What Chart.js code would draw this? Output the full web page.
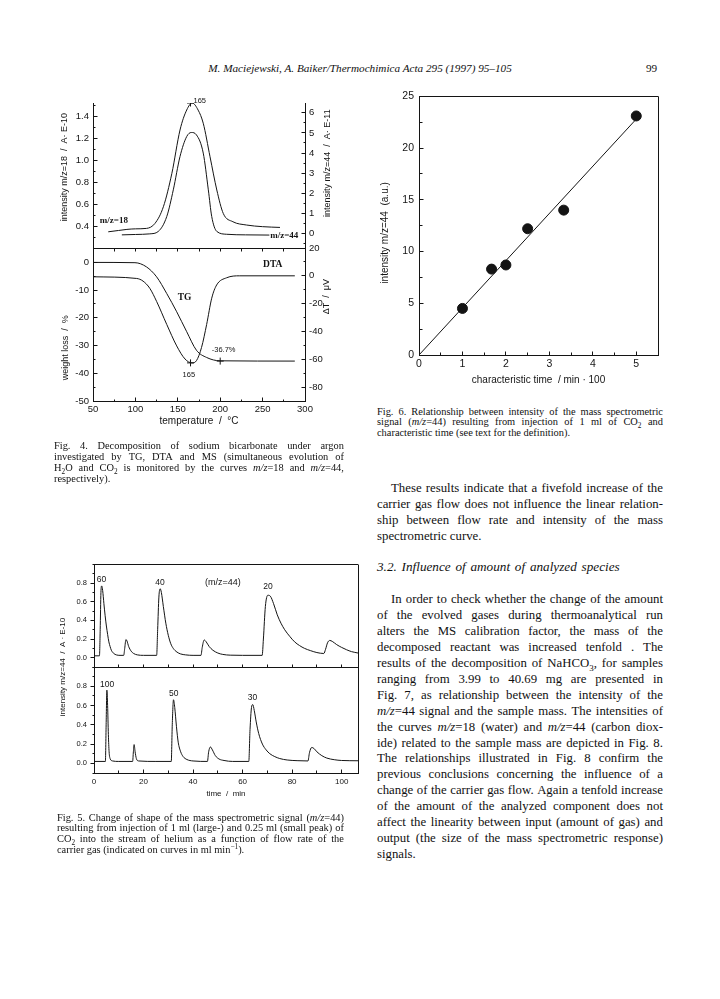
<!DOCTYPE html>
<html><head><meta charset="utf-8">
<script src="https://cdn.jsdelivr.net/npm/chart.js@4.4.1/dist/chart.umd.min.js"></script>
<style>
html,body{margin:0;padding:0;background:#fff;}
body{width:720px;height:999px;position:relative;overflow:hidden;font-family:"Liberation Serif","Times New Roman",serif;color:#111;}
canvas{position:absolute;}
.ln{position:absolute;box-sizing:border-box;white-space:nowrap;}
.j{display:flex;justify-content:space-between;}
sub,sup{font-size:70%;line-height:0;}
</style></head><body>
<div id="hdr" style="position:absolute;left:0;width:720px;top:61px;line-height:14px;font-size:11.2px;font-style:italic;text-align:center;">M. Maciejewski, A. Baiker/Thermochimica Acta 295 (1997) 95–105</div>
<div style="position:absolute;left:646px;top:61px;line-height:14px;font-size:11.2px;">99</div>

<canvas id="f4a" width="300" height="345" style="left:40px;top:90px"></canvas>
<canvas id="f4b" width="300" height="345" style="left:40px;top:90px"></canvas>
<canvas id="f6" width="300" height="310" style="left:370px;top:85px"></canvas>
<canvas id="f5a" width="330" height="250" style="left:40px;top:553px"></canvas>
<canvas id="f5b" width="330" height="250" style="left:40px;top:553px"></canvas>

<script>
// ---------------- DATA ----------------
// Fig. 4 (top): MS signals vs temperature
const fig4Temp18 = [68, 80, 90, 100, 113, 123, 133, 143, 152.6, 160.5, 167, 174, 180, 188, 196, 203.6, 215, 231, 250, 270.5];
const fig4Ms18   = [0.348, 0.36, 0.37, 0.375, 0.379, 0.424, 0.577, 0.882, 1.278, 1.461, 1.525, 1.46, 1.34, 1.034, 0.73, 0.516, 0.44, 0.41, 0.395, 0.388];
const fig4Temp44 = [84, 100, 117, 127, 137, 144.7, 152.6, 160.5, 166, 172, 180, 186, 190, 196, 207.6, 230, 258];
const fig4Ms44   = [-0.05, -0.03, 0, 0.12, 0.86, 2.18, 3.83, 4.82, 5.02, 4.9, 4.0, 2.18, 0.86, 0.12, -0.02, -0.05, -0.06];
// Fig. 4 (bottom): TG and DTA
const fig4TempTG = [50, 99.5, 113, 125, 136.9, 148.7, 160.5, 172, 184, 199.8, 288];
const fig4TG     = [0, -0.1, -1.6, -5.2, -11.2, -17.8, -25, -31.7, -34.3, -35.5, -35.6];
const fig4TempDTA = [50, 101.5, 109, 117, 125, 137, 148.7, 158.5, 166.8, 172, 178, 184, 190, 195.8, 207.6, 223, 288];
const fig4DTA     = [-0.7, -1.9, -3.8, -9, -18.4, -35, -50.4, -59.8, -62.6, -61, -51.5, -35, -16.1, -6.6, -1.4, 0, 0];
const fig4PeakTemp = 165;
const fig4PeakMs18 = 1.525;
const fig4PeakDTA = -62.6;
const fig4EndTemp = 200;
const fig4EndTG = -35.6;
// tick labels
const fig4TempTicks = [50, 100, 150, 200, 250, 300];
const fig4Ms18Ticks = [0.4, 0.6, 0.8, 1.0, 1.2, 1.4];
const fig4Ms44Ticks = [0, 1, 2, 3, 4, 5, 6];
const fig4TGTicks   = [0, -10, -20, -30, -40, -50];
const fig4DTATicks  = [20, 0, -20, -40, -60, -80];

// Fig. 5: m/z=44 signal vs time (upper: 60/40/20 ml/min, lower: 100/50/30 ml/min)
const fig5TimeUpper = [0, 2.2, 2.5, 2.8, 3.1, 3.5, 4.0, 4.5, 5.0, 5.5, 6.0, 6.5, 7.0, 8.0, 9.0, 10.5, 12.0, 12.4, 12.9, 13.3, 14.0, 15.0, 16.0, 17.5, 20.0, 25.3, 25.7, 26.2, 26.7, 27.2, 28.0, 29.0, 30.0, 31.0, 32.0, 33.5, 35.0, 37.0, 40.0, 43.2, 43.7, 44.5, 45.3, 46.5, 48.0, 50.0, 52.0, 55.0, 60.0, 67.9, 68.4, 69.2, 70.2, 71.2, 72.5, 74.0, 75.5, 77.0, 79.0, 81.0, 83.0, 85.0, 87.5, 90.0, 92.8, 93.5, 94.3, 95.2, 96.2, 98.0, 100.0, 102.0, 104.0, 106.6];
const fig5SigUpper  = [0.02, 0.02, 0.3, 0.7, 0.77, 0.72, 0.58, 0.45, 0.34, 0.25, 0.17, 0.12, 0.08, 0.045, 0.03, 0.025, 0.025, 0.1, 0.195, 0.18, 0.12, 0.07, 0.045, 0.03, 0.025, 0.025, 0.3, 0.65, 0.74, 0.70, 0.55, 0.37, 0.24, 0.15, 0.10, 0.06, 0.04, 0.03, 0.025, 0.025, 0.11, 0.19, 0.17, 0.12, 0.08, 0.05, 0.035, 0.027, 0.025, 0.025, 0.2, 0.55, 0.67, 0.66, 0.58, 0.46, 0.37, 0.30, 0.23, 0.17, 0.13, 0.10, 0.075, 0.055, 0.045, 0.09, 0.16, 0.185, 0.175, 0.14, 0.11, 0.085, 0.065, 0.05];
const fig5TimeLower = [0, 4.6, 4.9, 5.2, 5.5, 5.8, 6.1, 6.5, 7.5, 10, 15.6, 15.9, 16.2, 16.6, 17.1, 18.0, 25, 31.2, 31.6, 32.1, 32.6, 33.3, 34.0, 35.0, 36.0, 37.5, 40, 45.8, 46.3, 47.0, 47.8, 49.0, 50.5, 52.5, 56, 62.5, 63.0, 63.6, 64.1, 64.7, 65.5, 66.5, 68.0, 69.5, 71.0, 73.0, 75.0, 78.0, 82.0, 86.4, 87.0, 87.9, 88.8, 90.0, 92.0, 94.0, 97.0, 100.0, 106.6];
const fig5SigLower  = [0.02, 0.02, 0.4, 0.76, 0.6, 0.3, 0.12, 0.05, 0.025, 0.02, 0.02, 0.12, 0.195, 0.12, 0.05, 0.025, 0.02, 0.02, 0.4, 0.66, 0.58, 0.38, 0.22, 0.12, 0.07, 0.04, 0.025, 0.02, 0.12, 0.17, 0.14, 0.08, 0.045, 0.03, 0.02, 0.02, 0.35, 0.58, 0.61, 0.55, 0.43, 0.31, 0.20, 0.14, 0.10, 0.07, 0.05, 0.035, 0.028, 0.025, 0.11, 0.165, 0.155, 0.12, 0.08, 0.055, 0.038, 0.03, 0.027];
const fig5FlowUpper = ['60', '40', '20'];
const fig5FlowUpperAt = [3.0, 26.6, 70.3];
const fig5FlowLower = ['100', '50', '30'];
const fig5FlowLowerAt = [5.3, 32.2, 64.0];
const fig5TimeTicks = [0, 20, 40, 60, 80, 100];
const fig5SigTicks  = [0.0, 0.2, 0.4, 0.6, 0.8];

// Fig. 6: intensity vs characteristic time
const fig6Time = [1, 1.67, 2, 2.5, 3.33, 5];
const fig6Int  = [4.5, 8.3, 8.7, 12.2, 14.0, 23.1];
const fig6FitTime = [0, 5];
const fig6FitInt  = [0, 22.8];
const fig6TimeTicks = [0, 1, 2, 3, 4, 5];
const fig6IntTicks  = [0, 5, 10, 15, 20, 25];

// ---------------- HELPERS ----------------
const INK = '#141414';
const SANS = '"Liberation Sans", Arial, sans-serif';
const SERIF = '"Liberation Serif", "Times New Roman", serif';
Chart.defaults.font.family = SANS;
Chart.defaults.color = INK;
Chart.defaults.animation = false;
Chart.defaults.events = [];
Chart.defaults.plugins.legend.display = false;
Chart.defaults.plugins.tooltip.enabled = false;

const xy = (xs, ys) => xs.map((x, i) => ({x: x, y: ys[i]}));
const al = p => Math.round(p - 0.5) + 0.5;

const paper = {
  id: 'paper',
  afterDraw(chart, args, o) {
    const ctx = chart.ctx, ca = chart.chartArea;
    ctx.save();
    ctx.strokeStyle = INK; ctx.fillStyle = INK; ctx.lineWidth = 1;
    for (const side of (o.frame || [])) {
      ctx.beginPath();
      if (side === 'top') { ctx.moveTo(ca.left, al(ca.top)); ctx.lineTo(ca.right, al(ca.top)); }
      if (side === 'bottom') { ctx.moveTo(ca.left, al(ca.bottom)); ctx.lineTo(ca.right, al(ca.bottom)); }
      if (side === 'right') { ctx.moveTo(al(ca.right), ca.top); ctx.lineTo(al(ca.right), ca.bottom); }
      if (side === 'left') { ctx.moveTo(al(ca.left), ca.top); ctx.lineTo(al(ca.left), ca.bottom); }
      ctx.stroke();
    }
    for (const sp of (o.ticks || [])) {
      const sc = chart.scales[sp.scale];
      const mk = (v, len) => {
        const p = al(sc.getPixelForValue(v));
        ctx.beginPath();
        if (sp.side === 'left' || sp.side === 'right') {
          const x0 = al(sp.side === 'left' ? ca.left : ca.right);
          ctx.moveTo(x0, p); ctx.lineTo(x0 + sp.dir * len, p);
        } else {
          const y0 = al(sp.side === 'top' ? ca.top : ca.bottom);
          ctx.moveTo(p, y0); ctx.lineTo(p, y0 + sp.dir * len);
        }
        ctx.stroke();
      };
      if (sp.minorStep) {
        const st = sp.minorStep;
        for (let k = Math.ceil(sc.min / st - 1e-6); k * st <= sc.max + 1e-9; k++) mk(k * st, sp.minorLen || 2);
      }
      if (!sp.noMajor) sc.ticks.forEach(t => mk(t.value, sp.len || 4));
    }
    for (const t of (o.texts || [])) {
      const x = chart.scales[t.xs || 'x'].getPixelForValue(t.x);
      const y = chart.scales[t.ys || 'y'].getPixelForValue(t.y);
      ctx.font = t.font; ctx.textAlign = t.align || 'center'; ctx.textBaseline = 'middle';
      ctx.fillText(t.text, x, y);
    }
    for (const t of (o.titles || [])) {
      const sc = chart.scales[t.scale];
      const x = sc.left + t.dx, y = sc.getPixelForValue(t.at);
      ctx.save(); ctx.translate(x, y); ctx.rotate(-Math.PI / 2);
      ctx.font = t.font; ctx.textAlign = 'center'; ctx.textBaseline = 'middle';
      ctx.fillText(t.text, 0, 0); ctx.restore();
    }
    ctx.restore();
  }
};

function axis(o) {
  const a = {
    type: 'linear', position: o.position || 'left', min: o.min, max: o.max,
    display: o.display === undefined ? true : o.display,
    grid: {display: false, drawTicks: false},
    border: {display: true, color: INK, width: 1},
    ticks: {font: {size: o.size || 9}, color: INK, padding: o.pad || 4, autoSkip: false, maxRotation: 0,
            callback: o.fmt || (v => String(v))},
  };
  if (o.ticks) a.afterBuildTicks = s => { s.ticks = o.ticks.map(v => ({value: v})); };
  if (o.width !== undefined) a.afterFit = s => { s.width = o.width; };
  if (o.height !== undefined) a.afterFit = s => { s.height = o.height; };
  if (o.title) a.title = {display: true, text: o.title, font: {size: o.titleSize || 9}, color: INK, padding: {top: 0, bottom: o.titlePad || 0}};
  return a;
}
const line = (data, yid, extra) => Object.assign({data: data, yAxisID: yid, borderColor: INK, borderWidth: 1,
  pointRadius: 0, fill: false, cubicInterpolationMode: 'monotone'}, extra || {});
const cross = (data, yid) => ({data: data, yAxisID: yid, showLine: false, pointStyle: 'cross', pointRadius: 3.5,
  borderColor: INK, borderWidth: 1, backgroundColor: INK});
const fmt1 = v => v.toFixed(1);

// ---------------- FIG. 4 ----------------
new Chart(document.getElementById('f4a'), {
  type: 'line',
  data: {datasets: [
    line(xy(fig4Temp18, fig4Ms18), 'y'),
    line(xy(fig4Temp44, fig4Ms44), 'yR'),
    cross(xy([fig4PeakTemp], [fig4PeakMs18]), 'y')
  ]},
  options: {
    responsive: false,
    layout: {padding: {top: 13, bottom: 187, left: 0, right: 0}},
    scales: {
      x: axis({min: 50, max: 300, display: false}),
      y: axis({min: 0.2, max: 1.525, ticks: fig4Ms18Ticks, fmt: fmt1, width: 53, size: 9.5, pad: 4}),
      yR: axis({position: 'right', min: -0.7, max: 6.48, ticks: fig4Ms44Ticks, width: 35, size: 9.5, pad: 4})
    },
    plugins: {paper: {
      ticks: [
        {scale: 'y', side: 'left', dir: 1, len: 4, minorStep: 0.1, minorLen: 2},
        {scale: 'yR', side: 'right', dir: -1, len: 4, minorStep: 0.5, minorLen: 2}
      ],
      texts: [
        {text: String(fig4PeakTemp), x: 168.5, y: 1.545, align: 'left', font: '7.5px ' + SANS},
        {text: 'm/z=18', x: 58, y: 0.446, align: 'left', font: 'bold 9px ' + SERIF},
        {text: 'm/z=44', x: 259, ys: 'yR', y: -0.1, align: 'left', font: 'bold 9px ' + SERIF}
      ],
      titles: [
        {scale: 'y', dx: 25, at: 0.94, text: 'intensity m/z=18  /  A· E-10', font: '9px ' + SANS},
        {scale: 'yR', dx: 23, at: 3.5, text: 'intensity m/z=44  /  A· E-11', font: '9px ' + SANS}
      ]
    }}
  },
  plugins: [paper]
});

new Chart(document.getElementById('f4b'), {
  type: 'line',
  data: {datasets: [
    line(xy(fig4TempTG, fig4TG), 'y'),
    line(xy(fig4TempDTA, fig4DTA), 'yR'),
    cross(xy([fig4PeakTemp], [fig4PeakDTA]), 'yR'),
    cross(xy([fig4EndTemp], [fig4EndTG]), 'y')
  ]},
  options: {
    responsive: false,
    layout: {padding: {top: 158, bottom: 0, left: 0, right: 0}},
    scales: {
      x: axis({min: 50, max: 300, ticks: fig4TempTicks, height: 34, size: 9.5, pad: 3,
               title: 'temperature  /  °C', titleSize: 10, titlePad: 8}),
      y: axis({min: -50, max: 5.2, ticks: fig4TGTicks, width: 53, size: 9.5, pad: 4}),
      yR: axis({position: 'right', min: -90, max: 20, ticks: fig4DTATicks, width: 35, size: 9.5, pad: 4})
    },
    plugins: {paper: {
      frame: ['top'],
      ticks: [
        {scale: 'x', side: 'bottom', dir: -1, len: 4, minorStep: 25, minorLen: 2},
        {scale: 'x', side: 'top', dir: 1, len: 3, minorStep: 25, minorLen: 3, noMajor: true},
        {scale: 'y', side: 'left', dir: 1, len: 4, minorStep: 5, minorLen: 2},
        {scale: 'yR', side: 'right', dir: -1, len: 4, minorStep: 10, minorLen: 2}
      ],
      texts: [
        {text: 'DTA', x: 262, ys: 'yR', y: 8, font: 'bold 9.5px ' + SERIF},
        {text: 'TG', x: 158, y: -12.5, font: 'bold 9.5px ' + SERIF},
        {text: '-36.7%', x: 204, y: -31.4, font: '7.5px ' + SANS},
        {text: String(fig4PeakTemp), x: 163, y: -40.7, font: '7.5px ' + SANS}
      ],
      titles: [
        {scale: 'y', dx: 26, at: -30.8, text: 'weight loss  /  %', font: '9px ' + SANS},
        {scale: 'yR', dx: 22, at: -15, text: 'ΔT  /  μV', font: '9px ' + SANS}
      ]
    }}
  },
  plugins: [paper]
});

// ---------------- FIG. 6 ----------------
new Chart(document.getElementById('f6'), {
  type: 'line',
  data: {datasets: [
    line(xy(fig6FitTime, fig6FitInt), 'y', {cubicInterpolationMode: 'default'}),
    {data: xy(fig6Time, fig6Int), yAxisID: 'y', showLine: false, pointRadius: 5, pointBackgroundColor: INK,
     pointBorderColor: INK, borderColor: INK}
  ]},
  options: {
    responsive: false,
    layout: {padding: {top: 10, bottom: 0, left: 0, right: 12}},
    scales: {
      x: axis({min: 0, max: 5.5, ticks: fig6TimeTicks, height: 40, size: 10.5, pad: 3,
               title: 'characteristic time  / min · 100', titleSize: 10, titlePad: 9}),
      y: axis({min: 0, max: 25, ticks: fig6IntTicks, width: 49, size: 10.5, pad: 5})
    },
    plugins: {paper: {
      frame: ['top', 'right'],
      ticks: [
        {scale: 'x', side: 'bottom', dir: -1, len: 4, minorStep: 0.5, minorLen: 3},
        {scale: 'y', side: 'left', dir: 1, len: 4, minorStep: 2.5, minorLen: 3}
      ],
      titles: [
        {scale: 'y', dx: 15, at: 11.8, text: 'intensity m/z=44  (a.u.)', font: '10px ' + SANS}
      ]
    }}
  },
  plugins: [paper]
});

// ---------------- FIG. 5 ----------------
new Chart(document.getElementById('f5a'), {
  type: 'line',
  data: {datasets: [line(xy(fig5TimeUpper, fig5SigUpper), 'y')]},
  options: {
    responsive: false,
    layout: {padding: {top: 8, bottom: 136, left: 0, right: 12}},
    scales: {
      x: axis({min: 0, max: 106.6, display: false}),
      y: axis({min: -0.1, max: 1.0, ticks: fig5SigTicks, fmt: fmt1, width: 54, size: 7.5, pad: 7})
    },
    plugins: {paper: {
      frame: ['top', 'right'],
      ticks: [
        {scale: 'y', side: 'left', dir: -1, len: 4, minorStep: 0.1, minorLen: 2},
        {scale: 'x', side: 'bottom', dir: -1, len: 3, minorStep: 10, minorLen: 3, noMajor: true}
      ],
      texts: fig5FlowUpper.map((f, i) => ({text: f, x: fig5FlowUpperAt[i], y: [0.84, 0.80, 0.76][i], font: '8.5px ' + SANS}))
        .concat([{text: '(m/z=44)', x: 52, y: 0.81, font: '9px ' + SANS}])
    }}
  },
  plugins: [paper]
});

new Chart(document.getElementById('f5b'), {
  type: 'line',
  data: {datasets: [line(xy(fig5TimeLower, fig5SigLower), 'y')]},
  options: {
    responsive: false,
    layout: {padding: {top: 114, bottom: 0, left: 0, right: 12}},
    scales: {
      x: axis({min: 0, max: 106.6, ticks: fig5TimeTicks, height: 30, size: 8, pad: 4,
               title: 'time  /  min', titleSize: 8, titlePad: 4}),
      y: axis({min: -0.1, max: 1.0, ticks: fig5SigTicks, fmt: fmt1, width: 54, size: 7.5, pad: 7})
    },
    plugins: {paper: {
      frame: ['top', 'right'],
      ticks: [
        {scale: 'y', side: 'left', dir: -1, len: 4, minorStep: 0.1, minorLen: 2},
        {scale: 'x', side: 'bottom', dir: -1, len: 4, minorStep: 10, minorLen: 3}
      ],
      texts: fig5FlowLower.map((f, i) => ({text: f, x: fig5FlowLowerAt[i], y: [0.82, 0.72, 0.68][i], font: '8.5px ' + SANS})),
      titles: [
        {scale: 'y', dx: 23, at: 1.0, text: 'intensity m/z=44  /  A · E-10', font: '8px ' + SANS}
      ]
    }}
  },
  plugins: [paper]
});

// ---------------- TEXT ----------------
function addBlock(lines, o) {
  lines.forEach((html, i) => {
    const d = document.createElement('div');
    const ind = (o.indent || []).includes(i) ? o.ind : 0;
    d.className = 'ln' + ((o.last || []).includes(i) ? '' : ' j');
    d.style.cssText += `left:${o.left}px;width:${o.width}px;top:${(o.y0 + i * o.step - o.lh / 2).toFixed(1)}px;height:${o.lh}px;line-height:${o.lh}px;font-size:${o.size}px;padding-left:${ind}px;` + (o.italic ? 'font-style:italic;' : '') + (o.ws ? `word-spacing:${o.ws}px;` : '');
    if ((o.last || []).includes(i)) d.innerHTML = html;
    else d.innerHTML = html.split(/ +/).map(w => `<span>${w}</span>`).join('');
    document.body.appendChild(d);
  });
}

addBlock([
  'Fig. 4. Decomposition of sodium bicarbonate under argon',
  'investigated by TG, DTA and MS (simultaneous evolution of',
  'H<sub>2</sub>O and CO<sub>2</sub> is monitored by the curves <i>m/z</i>=18 and <i>m/z</i>=44,',
  'respectively).'
], {left: 54, width: 290, y0: 445, step: 11.2, lh: 11, size: 10.4, last: [3]});

addBlock([
  'Fig. 5.  Change of shape of the mass spectrometric signal (<i>m/z</i>=44)',
  'resulting from injection of 1 ml (large-) and 0.25 ml (small peak) of',
  'CO<sub>2</sub> into the stream of helium as a function of flow rate of the',
  'carrier gas (indicated on curves in ml min<sup>−1</sup>).'
], {left: 57, width: 287, y0: 817, step: 10.8, lh: 11, size: 10.4, last: [3]});

addBlock([
  'Fig. 6. Relationship between intensity of the mass spectrometric',
  'signal (<i>m/z</i>=44) resulting from injection of 1 ml of CO<sub>2</sub> and',
  'characteristic time (see text for the definition).'
], {left: 377, width: 286, y0: 411, step: 10.6, lh: 11, size: 10.4, last: [2]});

addBlock([
  'These results indicate that a fivefold increase of the',
  'carrier gas flow does not influence the linear relation-',
  'ship between flow rate and intensity of the mass',
  'spectrometric curve.'
], {left: 377, width: 286, y0: 488, step: 16, lh: 16, size: 12.8, last: [3], indent: [0], ind: 14});

addBlock([
  '3.2. Influence of amount of analyzed species'
], {left: 377, width: 286, y0: 567, step: 16, lh: 16, size: 13.2, last: [0], italic: true, ws: 1.5});

addBlock([
  'In order to check whether the change of the amount',
  'of the evolved gases during thermoanalytical run',
  'alters the MS calibration factor, the mass of the',
  'decomposed reactant was increased tenfold . The',
  'results of the decomposition of NaHCO<sub>3</sub>, for samples',
  'ranging from 3.99 to 40.69 mg are presented in',
  'Fig. 7, as relationship between the intensity of the',
  '<i>m/z</i>=44 signal and the sample mass. The intensities of',
  'the curves <i>m/z</i>=18 (water) and <i>m/z</i>=44 (carbon diox-',
  'ide) related to the sample mass are depicted in Fig. 8.',
  'The relationships illustrated in Fig. 8 confirm the',
  'previous conclusions concerning the influence of a',
  'change of the carrier gas flow. Again a tenfold increase',
  'of the amount of the analyzed component does not',
  'affect the linearity between input (amount of gas) and',
  'output (the size of the mass spectrometric response)',
  'signals.'
], {left: 377, width: 286, y0: 599, step: 15.94, lh: 16, size: 12.8, last: [16], indent: [0], ind: 14});
</script>
</body></html>
